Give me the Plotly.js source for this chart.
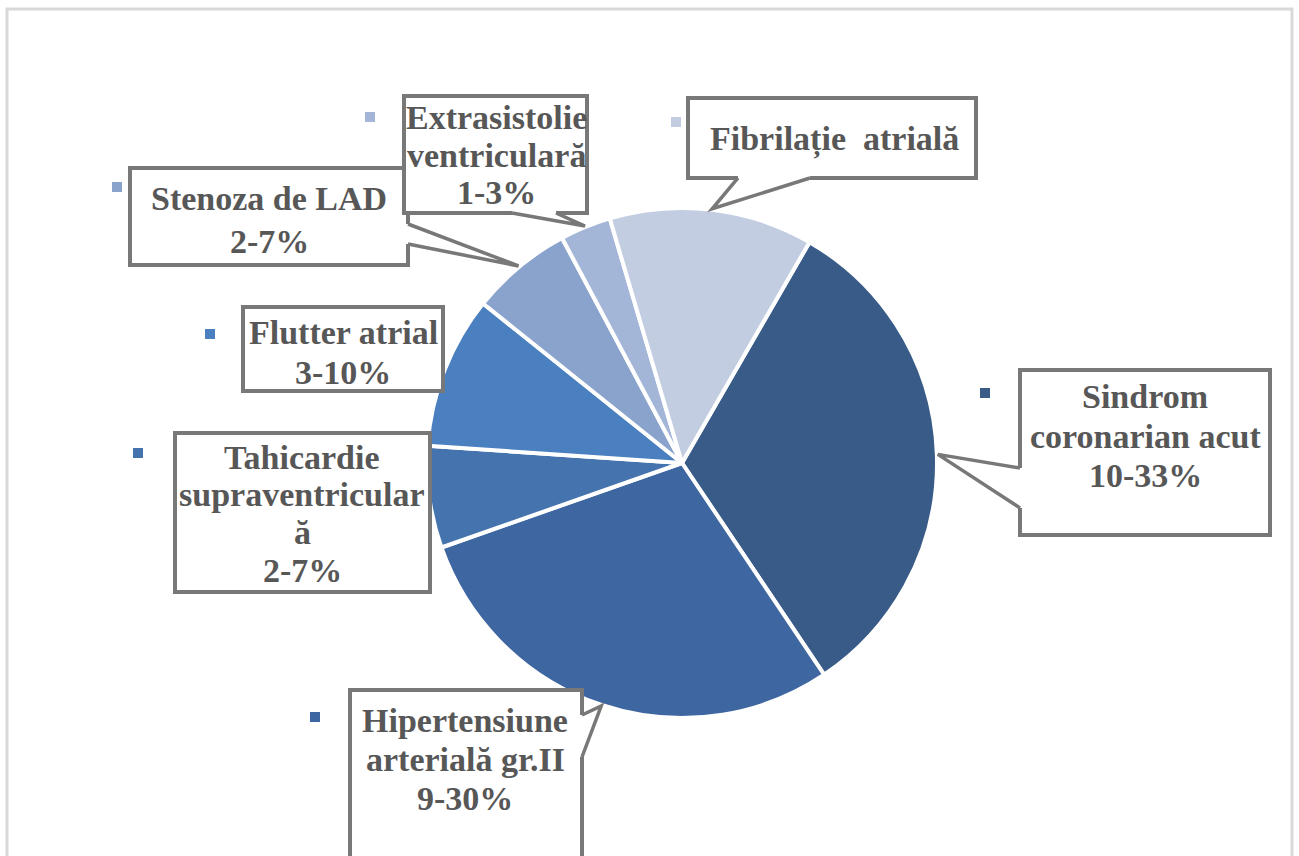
<!DOCTYPE html>
<html>
<head>
<meta charset="utf-8">
<script src="https://cdn.plot.ly/plotly-3.0.1.min.js"></script>
<style>html,body{margin:0;padding:0;background:#fff;}#chart{width:1299px;height:856px;}</style>
</head>
<body>
<div id="chart"></div>
<script>
// ---- data ----
const categories = ['Sindrom coronarian acut', 'Hipertensiune arterială gr.II', 'Tahicardie supraventriculară', 'Flutter atrial', 'Stenoza de LAD', 'Extrasistolie ventriculară', 'Fibrilație atrială'];
const values = [10, 9, 2, 3, 2, 1, 4];
const labelLines = [
  ['Sindrom', 'coronarian acut', '10-33%'],
  ['Hipertensiune', 'arterială gr.II', '9-30%'],
  ['Tahicardie', 'supraventricular', 'ă', '2-7%'],
  ['Flutter atrial', '3-10%'],
  ['Stenoza de LAD', '2-7%'],
  ['Extrasistolie', 'ventriculară', '1-3%'],
  ['Fibrilație  atrială']
];
const colors = ['#385b88', '#3e66a0', '#4473ae', '#4a7fc0', '#8aa3cc', '#a4b6d8', '#c2cde2'];

// ---- layout geometry (pixels) ----
const W = 1299, H = 856;
const cx = 682, cy = 463, R = 255;
const rotation = 30;
const boxes = [[1020,370,1270,535],[350,690,582,880],[175,433,430,592],[243,307,443,391],[130,168,408,265],[404,96,587,213],[688,98,976,178]];
const textPos = [[1145,397,39],[465,720,39],[302,457,37.7],[343,333,39],[269,199,43],[496,118,37],[834,140,0]];
const markers = [[985,393],[315,717],[138,453],[210,334],[117,187],[370,117],[676,122]];
const tails = {0:{b1:[1020,468],b2:[1020,508],inw:[1,0]},1:{b1:[582,715],b2:[582,757],inw:[-1,0]},4:{b1:[408,224],b2:[408,244],inw:[-1,0]},5:{b1:[512,213],b2:[556,213],inw:[0,-1]},6:{b1:[738,178],b2:[810,178],inw:[0,-1]}};

function px(x){return x/W;}
function py(y){return 1 - y/H;}
function pt(p){return px(p[0]).toFixed(5)+' '+py(p[1]).toFixed(5);}

// slice mid-angles from the data (clockwise from 12 o'clock)
const total = values.reduce((a,b)=>a+b,0);
let acc = rotation;
const mids = values.map(v => { const a = acc + v/total*360/2; acc += v/total*360; return a; });

const shapes = [];
// outer frame
shapes.push({type:'rect', xref:'paper', yref:'paper', x0:px(7), x1:px(1292), y0:py(9), y1:py(920), line:{color:'#d9d9d9', width:3}, fillcolor:'rgba(0,0,0,0)', layer:'below'});

const annotations = [];
for (let i = 0; i < categories.length; i++) {
  const b = boxes[i];
  shapes.push({type:'rect', xref:'paper', yref:'paper', x0:px(b[0]), x1:px(b[2]), y0:py(b[1]), y1:py(b[3]), line:{color:'#787878', width:4}, fillcolor:'#ffffff', layer:'above'});
  const t = tails[i];
  if (t) {
    const ang = mids[i]*Math.PI/180;
    const tip = [cx + (R+1)*Math.sin(ang), cy - (R+1)*Math.cos(ang)];
    const i1 = [t.b1[0]+t.inw[0]*4, t.b1[1]+t.inw[1]*4];
    const i2 = [t.b2[0]+t.inw[0]*4, t.b2[1]+t.inw[1]*4];
    shapes.push({type:'path', xref:'paper', yref:'paper', path:'M '+pt(i1)+' L '+pt(t.b1)+' L '+pt(tip)+' L '+pt(t.b2)+' L '+pt(i2)+' Z', fillcolor:'#ffffff', line:{width:0}, layer:'above'});
    shapes.push({type:'path', xref:'paper', yref:'paper', path:'M '+pt(t.b1)+' L '+pt(tip)+' L '+pt(t.b2), fillcolor:'rgba(0,0,0,0)', line:{color:'#787878', width:3.5}, layer:'above'});
  }
  const m = markers[i];
  shapes.push({type:'rect', xref:'paper', yref:'paper', x0:px(m[0]-5), x1:px(m[0]+5), y0:py(m[1]-5), y1:py(m[1]+5), line:{width:0}, fillcolor:colors[i], layer:'above'});
  const tp = textPos[i];
  labelLines[i].forEach((line, k) => {
    annotations.push({xref:'paper', yref:'paper', x:px(tp[0]), y:py(tp[1] + k*tp[2]), xanchor:'center', yanchor:'middle', showarrow:false, text:'<b>'+line+'</b>', font:{family:'Liberation Serif, Times New Roman, serif', size:34, color:'#575757'}});
  });
}

const trace = {
  type:'pie', labels:categories, values:values, sort:false, direction:'clockwise', rotation:rotation,
  marker:{colors:colors, line:{color:'#ffffff', width:4}},
  textinfo:'none', hoverinfo:'label+value', showlegend:false,
  domain:{x:[px(cx-R), px(cx+R)], y:[py(cy+R), py(cy-R)]}
};

const layout = {
  width:W, height:H, margin:{l:0, r:0, t:0, b:0},
  paper_bgcolor:'#ffffff', plot_bgcolor:'#ffffff', showlegend:false,
  shapes:shapes, annotations:annotations
};
Plotly.newPlot('chart', [trace], layout, {displayModeBar:false, staticPlot:true});
</script>
</body>
</html>
